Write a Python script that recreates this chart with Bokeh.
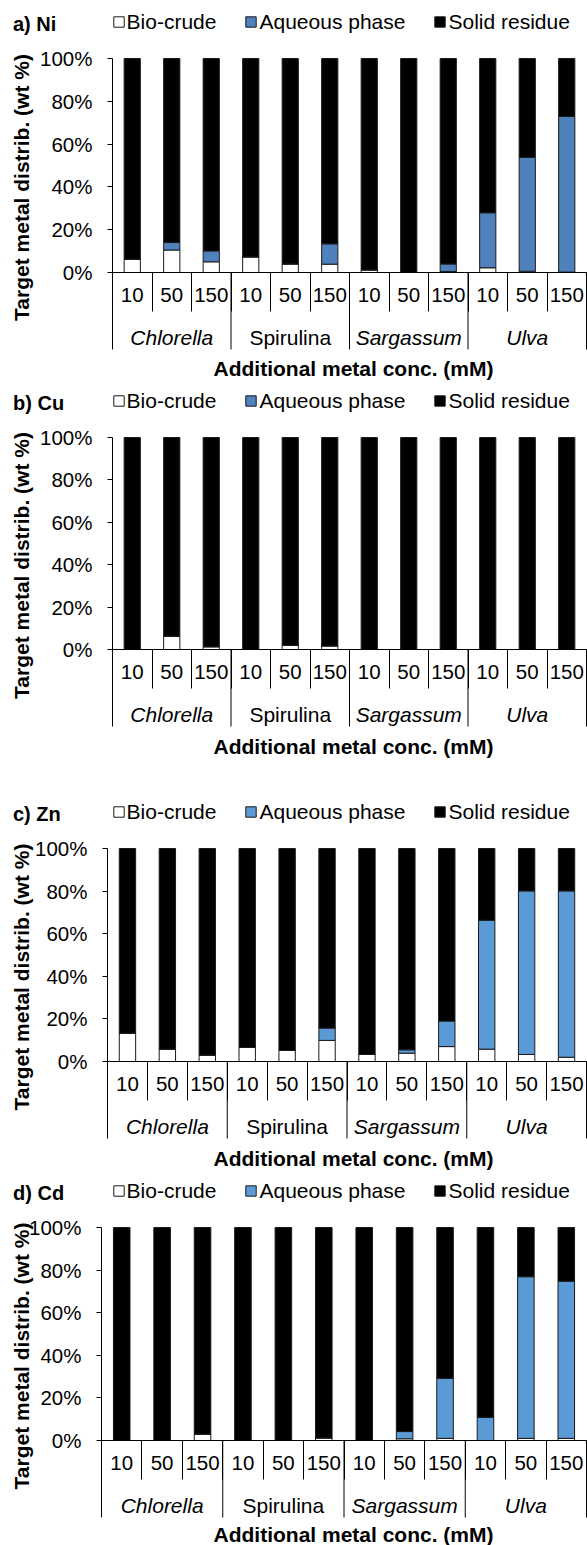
import math
from bokeh.plotting import figure
from bokeh.models import (Range1d, FixedTicker, PrintfTickFormatter, Label,
                          Legend, LegendItem, ColumnDataSource)
from bokeh.layouts import column
from bokeh.embed import file_html
from bokeh.resources import INLINE

FONT = "Liberation Sans"

# ---------------- data ----------------
species = ["Chlorella", "Spirulina", "Sargassum", "Ulva"]
species_italic = [True, False, True, True]
concs = ["10", "50", "150"]
fractions = ["Bio-crude", "Aqueous phase", "Solid residue"]
y_ticks = [0, 20, 40, 60, 80, 100]

# a) Ni  (wt %)
ni_bio = [6.2, 10.5, 5.0, 7.3, 4.0, 3.9, 1.2, 0.0, 0.5, 2.2, 0.6, 0.2]
ni_aq = [0.0, 3.5, 5.1, 0.0, 0.0, 9.5, 0.0, 0.0, 3.5, 25.7, 53.2, 72.7]
ni_solid = [93.8, 86.0, 89.9, 92.7, 96.0, 86.6, 98.8, 100.0, 96.0, 72.1, 46.2, 27.1]

# b) Cu
cu_bio = [0.0, 6.3, 1.3, 0.0, 2.0, 1.7, 0.0, 0.0, 0.0, 0.0, 0.0, 0.0]
cu_aq = [0.0, 0.0, 0.0, 0.0, 0.0, 0.0, 0.0, 0.0, 0.0, 0.0, 0.0, 0.0]
cu_solid = [100.0, 93.7, 98.7, 100.0, 98.0, 98.3, 100.0, 100.0, 100.0, 100.0, 100.0, 100.0]

# c) Zn
zn_bio = [13.3, 5.8, 3.0, 6.6, 5.2, 9.9, 3.3, 3.9, 7.0, 5.8, 3.3, 2.0]
zn_aq = [0.0, 0.0, 0.0, 0.0, 0.0, 5.8, 0.0, 1.6, 12.0, 60.5, 76.8, 78.1]
zn_solid = [86.7, 94.2, 97.0, 93.4, 94.8, 84.3, 96.7, 94.5, 81.0, 33.7, 19.9, 19.9]

# d) Cd
cd_bio = [0.0, 0.0, 3.0, 0.0, 0.0, 1.2, 0.0, 0.8, 1.0, 0.0, 1.0, 1.0]
cd_aq = [0.0, 0.0, 0.0, 0.0, 0.0, 0.0, 0.0, 3.4, 28.2, 10.9, 75.9, 73.8]
cd_solid = [100.0, 100.0, 97.0, 100.0, 100.0, 98.8, 100.0, 95.8, 70.8, 89.1, 23.1, 25.2]

# ---------------- layout (pixels inside each figure) ----------------
W = 587
R = 586  # pixel where the last category ends

panels = [
    dict(title="a) Ni", bio=ni_bio, aq=ni_aq, solid=ni_solid, blue="#4F81BD",
         H=385, T=58, fh=214, L=112, xt=95.5),
    dict(title="b) Cu", bio=cu_bio, aq=cu_aq, solid=cu_solid, blue="#4F81BD",
         H=395, T=52, fh=212, L=112, xt=97),
    dict(title="c) Zn", bio=zn_bio, aq=zn_aq, solid=zn_solid, blue="#5B9BD5",
         H=395, T=68, fh=213, L=107, xt=97),
    dict(title="d) Cd", bio=cd_bio, aq=cd_aq, solid=cd_solid, blue="#5B9BD5",
         H=370, T=52, fh=213, L=101, xt=94),
]


def make_panel(cfg):
    n = len(species) * len(concs)
    H, T, fh, L = cfg["H"], cfg["T"], cfg["fh"], cfg["L"]
    cw = (R - L) / n
    yd = 100.0 / fh
    base = T + fh  # pixel row of the 0 % line

    def X(px):
        return (px - L) / cw

    def Y(py):
        return (base - py) * yd

    p = figure(width=W, height=H,
               x_range=Range1d(X(0), X(W)), y_range=Range1d(Y(H), Y(0)),
               output_backend="svg", toolbar_location=None,
               min_border_left=0, min_border_right=0, min_border_top=0, min_border_bottom=0)
    p.title.visible = False
    p.outline_line_color = None
    p.xgrid.visible = False
    p.ygrid.visible = False

    xs = [i + 0.5 for i in range(n)]
    src = ColumnDataSource(dict(x=xs, bio=cfg["bio"], aq=cfg["aq"], solid=cfg["solid"]))
    rs = p.vbar_stack(["bio", "aq", "solid"], x="x", width=0.41, source=src,
                      fill_color=["white", cfg["blue"], "black"],
                      line_color="#1a1a1a", line_width=1)

    # y axis (crossing at x = 0)
    ya = p.yaxis[0]
    ya.fixed_location = 0
    ya.bounds = (0, 100)
    ya.ticker = FixedTicker(ticks=y_ticks)
    ya.formatter = PrintfTickFormatter(format="%d%%")
    ya.major_tick_out = 5
    ya.major_tick_in = 0
    ya.minor_tick_out = 0
    ya.minor_tick_in = 0
    ya.major_label_standoff = 15
    ya.major_label_text_font = FONT
    ya.major_label_text_font_size = "20.5px"
    ya.major_label_text_color = "black"
    ya.axis_line_color = "black"
    ya.major_tick_line_color = "black"

    # x axis (at 0 %): concentration labels + short separators
    xa = p.xaxis[0]
    xa.fixed_location = 0
    xa.bounds = (0, n)
    labels = [c for _ in species for c in concs]
    xa.ticker = FixedTicker(ticks=xs, minor_ticks=list(range(n + 1)))
    xa.major_label_overrides = {x: lab for x, lab in zip(xs, labels)}
    xa.major_tick_out = 0
    xa.major_tick_in = 0
    xa.minor_tick_out = 39
    xa.minor_tick_in = 0
    xa.minor_tick_line_color = "black"
    xa.major_label_standoff = -24
    xa.major_label_text_font = FONT
    xa.major_label_text_font_size = "20.5px"
    xa.major_label_text_color = "black"
    xa.axis_line_color = "black"

    # long separators between species groups
    gb = list(range(0, n + 1, len(concs)))
    p.segment(x0=gb, y0=[0] * len(gb), x1=gb, y1=[Y(base + 77)] * len(gb),
              line_color="black", line_width=1)

    # species labels
    for g, name in enumerate(species):
        p.add_layout(Label(x=g * len(concs) + len(concs) / 2, y=Y(base + 65), text=name,
                           text_align="center", text_baseline="middle",
                           text_font=FONT, text_font_size="21px",
                           text_font_style="italic" if species_italic[g] else "normal",
                           text_color="black"))

    # x title
    p.add_layout(Label(x=X(353), y=Y(base + cfg["xt"]), text="Additional metal conc. (mM)",
                       text_align="center", text_baseline="middle",
                       text_font=FONT, text_font_size="21px", text_font_style="bold",
                       text_color="black"))
    # y title
    p.add_layout(Label(x=X(21), y=Y(T + fh / 2 + 22), text="Target metal distrib. (wt %)",
                       angle=math.pi / 2, text_align="center", text_baseline="middle",
                       text_font=FONT, text_font_size="21px", text_font_style="bold",
                       text_color="black"))
    # panel title
    p.add_layout(Label(x=X(12.5), y=Y(T - 35), text=cfg["title"],
                       text_align="left", text_baseline="middle",
                       text_font=FONT, text_font_size="20px", text_font_style="bold",
                       text_color="black"))

    legend = Legend(items=[LegendItem(label=nm, renderers=[r]) for nm, r in zip(fractions, rs)],
                    orientation="horizontal",
                    location=(111.6, H - (T - 35) - 10.5))
    legend.glyph_width = 13
    legend.glyph_height = 13
    legend.label_standoff = 2
    legend.spacing = 28
    legend.padding = 0
    legend.margin = 0
    legend.label_height = 21
    legend.border_line_color = None
    legend.background_fill_alpha = 0
    legend.label_text_font = FONT
    legend.label_text_font_size = "21px"
    legend.label_text_color = "black"
    legend.label_text_baseline = "middle"
    p.add_layout(legend)
    return p


figs = [make_panel(c) for c in panels]
layout = column(*figs, spacing=0)

with open("out.html", "w") as f:
    f.write(file_html(layout, INLINE))
